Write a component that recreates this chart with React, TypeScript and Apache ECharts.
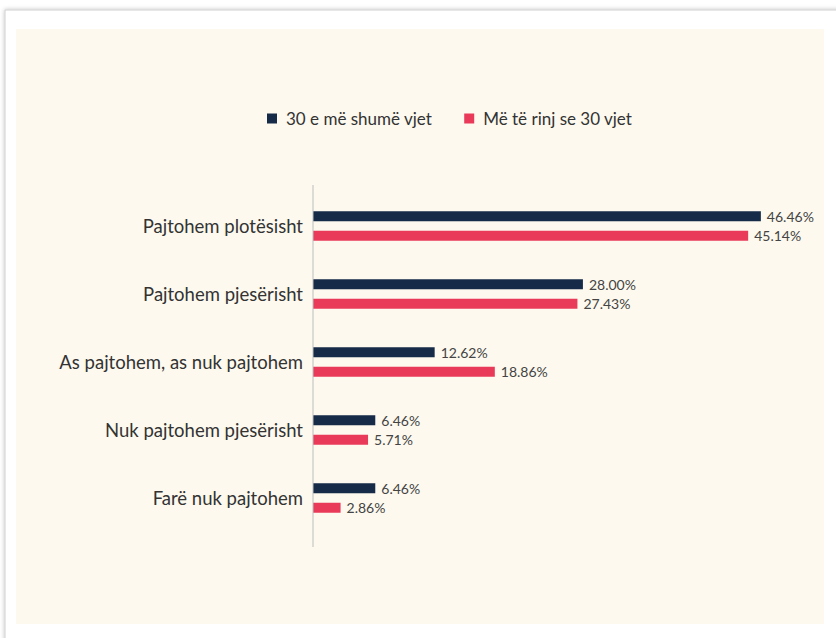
import React, { useEffect, useRef } from "react";
import * as echarts from "echarts";

const categories = [
  "Pajtohem plotësisht",
  "Pajtohem pjesërisht",
  "As pajtohem, as nuk pajtohem",
  "Nuk pajtohem pjesërisht",
  "Farë nuk pajtohem",
];
const seriesNames = ["30 e më shumë vjet", "Më të rinj se 30 vjet"];
const olderValues = [46.46, 28.0, 12.62, 6.46, 6.46];
const youngerValues = [45.14, 27.43, 18.86, 5.71, 2.86];

const FONT = "Lato, 'Noto Sans', sans-serif";

export default function App() {
  const ref = useRef<HTMLDivElement>(null);
  useEffect(() => {
    if (!ref.current) return;
    const chart = echarts.init(ref.current, undefined, { renderer: "svg" });
    const labelOpt = {
      show: true,
      position: "right",
      distance: 6,
      color: "#444",
      fontSize: 14,
      fontFamily: FONT,
      formatter: (p: any) => Number(p.value).toFixed(2) + "%",
    };
    chart.setOption({
      animation: false,
      backgroundColor: "#ffffff",
      graphic: [
        {
          type: "rect",
          z: -10,
          shape: { x: 5, y: 10, width: 850, height: 650 },
          style: {
            fill: "#ffffff",
            stroke: "#cfcfcf",
            lineWidth: 1,
            shadowBlur: 4,
            shadowColor: "rgba(0,0,0,0.25)",
          },
        },
        {
          type: "rect",
          z: -9,
          shape: { x: 16, y: 29, width: 808, height: 595 },
          style: { fill: "#FDF9EE" },
        },
        {
          type: "line",
          z: 5,
          shape: { x1: 313, y1: 185, x2: 313, y2: 547 },
          style: { stroke: "#bdbdbd", lineWidth: 1 },
        },
      ],
      legend: {
        data: seriesNames,
        left: 262,
        top: 105,
        itemWidth: 10,
        itemHeight: 10,
        itemGap: 32,
        icon: "rect",
        textStyle: {
          color: "#333",
          fontSize: 17,
          fontFamily: FONT,
          padding: [0, 0, 0, 4],
        },
      },
      grid: { left: 313, top: 192, width: 482, height: 340, containLabel: false },
      xAxis: {
        type: "value",
        min: 0,
        max: 50,
        show: false,
      },
      yAxis: {
        type: "category",
        data: categories,
        inverse: true,
        axisLine: { show: false },
        axisTick: { show: false },
        axisLabel: {
          color: "#333",
          fontSize: 18.5,
          fontFamily: FONT,
          margin: 10,
          padding: [0, 0, 4, 0],
        },
      },
      series: [
        {
          name: seriesNames[0],
          type: "bar",
          data: olderValues,
          barWidth: 10,
          barGap: "95%",
          itemStyle: { color: "#152B47" },
          label: labelOpt,
        },
        {
          name: seriesNames[1],
          type: "bar",
          data: youngerValues,
          barWidth: 10,
          itemStyle: { color: "#E93A5A" },
          label: labelOpt,
        },
      ],
    });
    return () => chart.dispose();
  }, []);
  return (
    <div
      ref={ref}
      style={{ position: "absolute", left: 0, top: 0, width: 836, height: 638 }}
    />
  );
}
